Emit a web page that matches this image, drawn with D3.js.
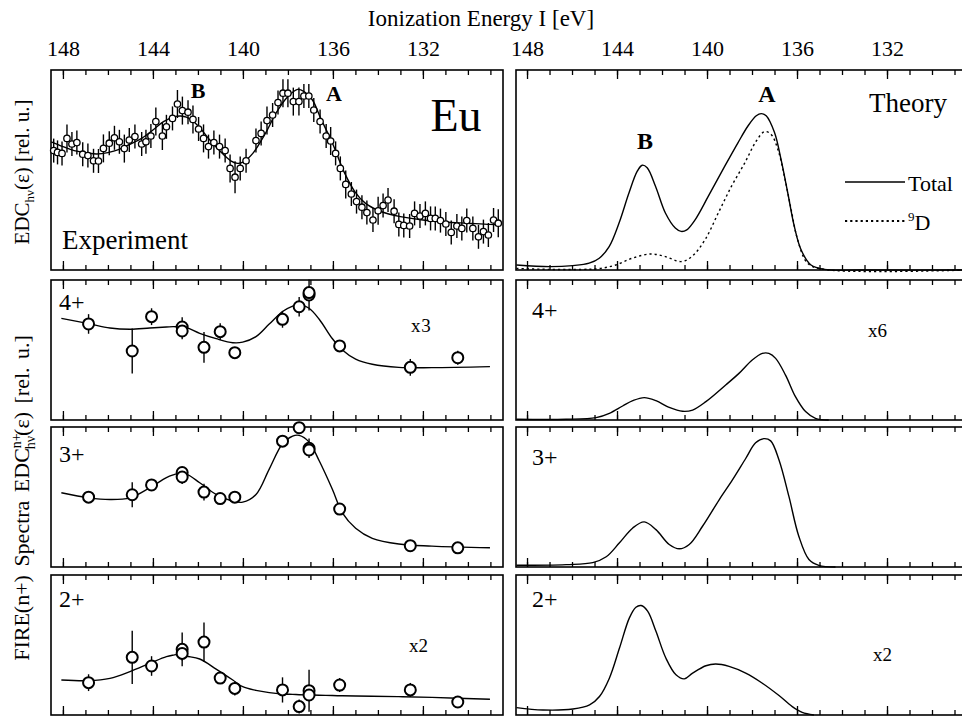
<!DOCTYPE html>
<html>
<head>
<meta charset="utf-8">
<script src="https://cdn.jsdelivr.net/npm/d3@7"></script>
<style>
  body { margin: 0; background: #fff; }
  svg, svg text { font-family: "Liberation Serif", "Times New Roman", serif; }
  .frame { fill: none; stroke: #000; stroke-width: 1.6; }
  .curve { fill: none; stroke: #000; stroke-width: 1.4; }
  .tick line { stroke: #000; stroke-width: 1.3; }
  .domain { display: none; }
</style>
</head>
<body>
<div class="contain"></div>
<script>
const svg_width = 962;
const svg_height = 717;

// ---- experiment, total EDC (top left) ----
const expEnergy = [148.41, 148.24, 148.04, 147.82, 147.60, 147.38, 147.12, 146.89, 146.64, 146.42,
  146.20, 145.94, 145.71, 145.49, 145.27, 145.05, 144.80, 144.50, 144.31, 144.09,
  143.87, 143.58, 143.40, 143.13, 142.91, 142.69, 142.44, 142.22, 141.97, 141.75,
  141.53, 141.29, 141.04, 140.79, 140.57, 140.35, 140.12, 139.86, 139.42, 139.19,
  138.93, 138.68, 138.44, 138.22, 138.00, 137.76, 137.51, 137.29, 137.07, 136.85,
  136.57, 136.30, 136.10, 135.88, 135.67, 135.43, 135.18, 134.95, 134.71, 134.49,
  134.22, 133.99, 133.77, 133.55, 133.28, 133.07, 132.85, 132.59, 132.37, 132.13,
  131.89, 131.66, 131.45, 131.22, 130.98, 130.74, 130.49, 130.27, 130.05, 129.78,
  129.53, 129.31, 129.09, 128.86, 128.65];
const expValue = [59.7, 58.8, 58.3, 65.8, 63.0, 63.7, 57.9, 57.2, 54.6, 54.5,
  60.8, 63.4, 66.1, 64.1, 60.7, 65.0, 66.7, 63.0, 64.1, 67.0,
  74.2, 67.0, 71.6, 75.8, 83.0, 79.7, 78.9, 75.3, 70.5, 65.8,
  61.7, 63.7, 61.7, 59.7, 50.8, 46.4, 50.8, 54.6, 64.7, 68.3,
  74.7, 77.5, 83.7, 88.4, 88.4, 84.2, 84.2, 87.0, 87.0, 80.0,
  74.2, 67.0, 64.5, 58.3, 50.8, 42.8, 38.0, 34.2, 31.4, 28.7,
  25.0, 29.6, 32.2, 35.0, 29.4, 22.8, 22.3, 22.0, 28.3, 27.0,
  28.3, 25.8, 25.8, 24.7, 23.0, 18.8, 22.0, 20.8, 24.7, 20.8,
  16.6, 19.2, 17.5, 25.0, 23.4];
const expError = [6, 6, 6, 7, 6, 6, 6, 6, 6, 6,
  7, 6, 6, 6, 7, 6, 6, 6, 6, 6,
  7, 7, 6, 6, 7, 7, 6, 7, 6, 7,
  6, 6, 6, 6, 7, 8, 6, 6, 6, 6,
  7, 6, 6, 7, 7, 7, 7, 6, 6, 6,
  6, 6, 7, 6, 6, 7, 6, 6, 6, 6,
  6, 7, 6, 6, 6, 6, 6, 6, 6, 6,
  6, 6, 6, 6, 6, 6, 6, 6, 6, 6,
  6, 6, 6, 6, 7];
const expFitEnergy = [148.52, 148.0, 147.5, 147.0, 146.5, 146.0, 145.5, 145.0, 144.5, 144.0,
  143.53, 143.03, 142.76, 142.51, 142.03, 141.53, 141.04, 140.54, 140.23, 140.0,
  139.56, 139.0, 138.53, 138.01, 137.57, 137.28, 136.91, 136.54, 136.02, 135.51,
  135.02, 134.55, 134.03, 133.52, 133.0, 132.0, 131.01, 130.01, 129.02, 128.53];
const expFitValue = [64.1, 61.7, 59.7, 58.7, 58.0, 58.7, 60.3, 63.0, 65.8, 70.0,
  74.2, 76.7, 77.0, 76.4, 72.5, 65.8, 59.7, 54.6, 53.3, 53.9,
  58.3, 68.3, 78.4, 86.6, 90.3, 89.2, 85.0, 75.8, 63.4, 49.2,
  39.1, 33.3, 30.0, 28.0, 26.7, 25.0, 24.0, 23.4, 22.8, 22.7];

// ---- theory, total and 9D (top right) ----
const totalEnergy = [148.47, 147.0, 145.97, 145.24, 144.79, 144.35, 143.91, 143.47, 143.10, 142.88,
  142.66, 142.29, 141.85, 141.41, 141.15, 140.90, 140.53, 139.94, 139.21, 138.62,
  138.18, 137.81, 137.59, 137.37, 137.0, 136.71, 136.41, 136.12, 135.82, 135.38,
  134.79, 133.03, 128.4];
const totalValue = [2.5, 1.7, 2.2, 3.4, 5.9, 11.7, 23.5, 38.5, 49.4, 52.4,
  51.1, 41.9, 28.5, 21.0, 19.3, 20.1, 25.1, 36.9, 51.9, 63.7,
  72.0, 77.1, 78.2, 77.1, 68.7, 55.3, 38.5, 21.8, 10.1, 2.5,
  0.3, 0, 0];
const d9Energy = [148.47, 147.0, 145.53, 144.79, 144.06, 143.32, 142.51, 141.85, 141.15, 140.68,
  140.09, 139.50, 138.91, 138.32, 137.81, 137.44, 137.15, 136.85, 136.56, 136.26,
  135.97, 135.53, 134.79, 128.4];
const d9Value = [0.8, 0.3, 0.3, 0.7, 2.5, 5.9, 8.0, 6.7, 4.2, 6.7,
  15.1, 28.5, 41.9, 53.6, 64.5, 69.2, 67.8, 60.3, 46.9, 30.2,
  15.1, 3.4, 0.3, 0];

// ---- FIRE ion spectra, experiment (left lower panels) ----
const ionEnergy = [146.86, 144.92, 144.06, 142.70, 142.70, 141.73, 141.01, 140.36, 138.24, 137.50,
  137.06, 137.06, 135.70, 132.56, 130.45];
const ion4Value = [68.6, 49.3, 73.8, 66.4, 63.6, 51.9, 63.1, 48.1, 71.9, 80.9, 89.3, 91.0, 52.9, 37.6, 44.5];
const ion4Error = [7, 16, 6, 7, 6, 11, 6, 2, 6, 7, 11, 4, 4, 6, 5];
const ion3Value = [49.9, 51.6, 58.6, 67.5, 64.3, 53.5, 48.9, 49.9, 89.9, 99.5, 84.8, 83.6, 41.4, 15.2, 13.7];
const ion3Error = [2, 9, 2, 3, 5, 6, 2, 2, 3, 2, 7, 2, 2, 2, 2];
const ion2Value = [23.1, 41.2, 35.0, 46.9, 44.0, 52.1, 26.4, 19.0, 17.9, 6.0, 17.4, 14.3, 21.4, 17.9, 9.3];
const ion2Error = [6, 19, 7, 12, 5, 14, 3, 5, 9, 5, 15, 3, 5, 5, 2];

const fitEnergy = [148.07, 146.86, 145.91, 145.02, 144.14, 143.40, 143.10, 142.88, 142.51, 141.92,
  141.19, 140.45, 140.01, 139.42, 138.83, 138.24, 137.79, 137.50, 137.06, 136.61,
  136.02, 135.58, 134.99, 134.25, 133.07, 131.60, 129.02];
const fit4Value = [72.6, 68.8, 65.7, 64.8, 65.7, 66.4, 66.7, 66.5, 66.0, 61.9,
  58.1, 55.2, 55.6, 59.5, 68.5, 77.5, 81.4, 82.6, 79.8, 72.0,
  58.0, 50.0, 43.5, 39.8, 37.6, 37.4, 38.1];
const fit3Value = [53.0, 49.4, 48.2, 49.4, 56.6, 63.9, 65.8, 66.7, 66.3, 60.2,
  51.8, 47.0, 46.3, 51.8, 69.9, 88.0, 93.5, 94.0, 89.2, 75.9,
  55.4, 38.6, 27.7, 20.5, 16.4, 14.9, 13.7];
const fit2Value = [25.0, 24.5, 26.2, 31.0, 36.9, 41.7, 42.8, 43.3, 42.0, 40.0,
  32.8, 25.0, 20.2, 17.6, 16.0, 15.0, 14.7, 14.5, 14.3, 14.1,
  13.9, 13.7, 13.6, 13.4, 13.1, 12.6, 11.2];

// ---- FIRE ion spectra, theory (right lower panels) ----
const th4Energy = [148.47, 146.26, 144.93, 144.34, 143.75, 143.30, 142.79, 142.27, 141.68, 141.09,
  140.64, 140.05, 139.17, 138.58, 137.99, 137.54, 137.25, 136.95, 136.51, 136.07,
  135.62, 135.18, 134.59];
const th4Value = [0.5, 0.5, 1.7, 4.8, 10.0, 13.8, 16.0, 13.8, 9.0, 6.2,
  7.1, 13.1, 25.0, 33.3, 42.9, 47.6, 47.6, 44.0, 32.1, 16.7,
  6.0, 1.2, 0];
const th3Energy = [148.47, 146.26, 145.08, 144.48, 143.89, 143.30, 142.79, 142.27, 141.68, 141.23,
  140.79, 140.20, 139.46, 138.87, 138.28, 137.84, 137.47, 137.17, 136.80, 136.36,
  135.92, 135.47, 135.03, 134.29];
const th3Value = [1.2, 1.7, 3.1, 7.3, 17.3, 27.9, 32.2, 26.7, 16.1, 13.0,
  16.1, 29.1, 48.0, 62.2, 77.5, 88.7, 91.7, 90.1, 76.4, 50.4,
  22.0, 5.4, 1.2, 0];
const th2Energy = [148.47, 147.29, 145.96, 145.22, 144.78, 144.34, 143.89, 143.45, 143.16, 142.93,
  142.64, 142.27, 141.83, 141.38, 141.01, 140.64, 140.05, 139.61, 139.02, 138.28,
  137.54, 136.80, 136.21, 135.77, 135.25];
const th2Value = [5.3, 3.6, 4.3, 7.2, 13.2, 26.3, 47.8, 69.4, 77.0, 78.2,
  74.2, 59.8, 40.7, 28.7, 25.8, 29.9, 35.2, 36.4, 34.7, 29.9,
  22.7, 13.9, 6.0, 1.9, 0];

const majorTicks = [148, 144, 140, 136, 132];
const minorTicks = d3.range(129, 149);

const serif = "Liberation Serif, Times New Roman, serif";

let svg = d3.select(".contain").append("svg")
            .attr("width", svg_width).attr("height", svg_height)
            .attr("font-family", serif);

// column x scales (energy runs right to left)
let xLeft = d3.scaleLinear().domain([148.53, 128.44]).range([51, 503]);
let xRight = d3.scaleLinear().domain([148.49, 128.4]).range([516, 968]);

// row extents [top, bottom]
const rows = [[70, 270], [280, 420], [427, 567], [575, 715]];

function panel(xScale, row, withLabels) {
  let top = rows[row][0], bottom = rows[row][1];
  let yScale = d3.scaleLinear().domain([0, 100]).range([bottom, top]);
  let g = svg.append("g");

  g.append("g").attr("transform", `translate(0, ${top})`)
    .call(d3.axisTop(xScale).tickValues(minorTicks).tickSize(-5).tickFormat(""));
  g.append("g").attr("transform", `translate(0, ${bottom})`)
    .call(d3.axisBottom(xScale).tickValues(minorTicks).tickSize(-5).tickFormat(""));
  let topAxis = g.append("g").attr("transform", `translate(0, ${top})`)
    .call(d3.axisTop(xScale).tickValues(majorTicks).tickSize(-9).tickPadding(14)
      .tickFormat(withLabels ? d3.format("d") : ""));
  topAxis.attr("font-family", serif);
  topAxis.selectAll("text").attr("font-size", 22).attr("fill", "#000");
  g.append("g").attr("transform", `translate(0, ${bottom})`)
    .call(d3.axisBottom(xScale).tickValues(majorTicks).tickSize(-9).tickFormat(""));

  g.append("rect").attr("class", "frame")
    .attr("x", xScale.range()[0]).attr("y", top)
    .attr("width", xScale.range()[1] - xScale.range()[0]).attr("height", bottom - top);
  return {g: g, x: xScale, y: yScale};
}

function drawCurve(p, energies, values, dash) {
  let line = d3.line()
    .x((d) => p.x(d[0]))
    .y((d) => p.y(d[1]))
    .curve(d3.curveCatmullRom.alpha(0.5));
  p.g.append("path")
    .attr("class", "curve")
    .attr("d", line(d3.zip(energies, values)))
    .attr("stroke-dasharray", dash ? "2.2,3" : null)
    .attr("stroke-width", dash ? 2 : 1.4);
}

function drawPoints(p, energies, values, errors, r, sw) {
  let data = d3.zip(energies, values, errors);
  p.g.append("g").selectAll("line")
    .data(data).enter().append("line")
    .attr("x1", (d) => p.x(d[0])).attr("x2", (d) => p.x(d[0]))
    .attr("y1", (d) => p.y(d[1] - d[2])).attr("y2", (d) => p.y(d[1] + d[2]))
    .attr("stroke", "#000").attr("stroke-width", 1.4);
  p.g.append("g").selectAll("circle")
    .data(data).enter().append("circle")
    .attr("cx", (d) => p.x(d[0])).attr("cy", (d) => p.y(d[1]))
    .attr("r", r).attr("fill", "#fff").attr("stroke", "#000").attr("stroke-width", sw);
}

function label(x, y, txt, size, weight) {
  return svg.append("text").attr("x", x).attr("y", y)
    .attr("font-family", serif)
    .attr("font-size", size).attr("font-weight", weight || "normal").text(txt);
}

// panels
let pExp = panel(xLeft, 0, true);
drawCurve(pExp, expFitEnergy, expFitValue);
drawPoints(pExp, expEnergy, expValue, expError, 3.2, 1.3);

let pTh = panel(xRight, 0, true);
drawCurve(pTh, totalEnergy, totalValue);
drawCurve(pTh, d9Energy, d9Value, true);

let p4 = panel(xLeft, 1, false);
drawCurve(p4, fitEnergy, fit4Value);
drawPoints(p4, ionEnergy, ion4Value, ion4Error, 5.5, 2);

let p3 = panel(xLeft, 2, false);
drawCurve(p3, fitEnergy, fit3Value);
drawPoints(p3, ionEnergy, ion3Value, ion3Error, 5.5, 2);

let p2 = panel(xLeft, 3, false);
drawCurve(p2, fitEnergy, fit2Value);
drawPoints(p2, ionEnergy, ion2Value, ion2Error, 5.5, 2);

let pt4 = panel(xRight, 1, false);
drawCurve(pt4, th4Energy, th4Value);
let pt3 = panel(xRight, 2, false);
drawCurve(pt3, th3Energy, th3Value);
let pt2 = panel(xRight, 3, false);
drawCurve(pt2, th2Energy, th2Value);

// titles and annotations
label(481, 26, "Ionization Energy  I [eV]", 23).attr("text-anchor", "middle");

label(198, 98, "B", 22, "bold").attr("text-anchor", "middle");
label(334, 101, "A", 22, "bold").attr("text-anchor", "middle");
label(456, 131, "Eu", 46).attr("text-anchor", "middle");
label(62, 249, "Experiment", 27);

label(767, 102, "A", 24, "bold").attr("text-anchor", "middle");
label(645, 149, "B", 24, "bold").attr("text-anchor", "middle");
label(908, 112, "Theory", 27).attr("text-anchor", "middle");

svg.append("line").attr("x1", 845).attr("x2", 905).attr("y1", 182).attr("y2", 182)
  .attr("stroke", "#000").attr("stroke-width", 1.4);
label(908, 191, "Total", 22);
svg.append("line").attr("x1", 845).attr("x2", 905).attr("y1", 221).attr("y2", 221)
  .attr("stroke", "#000").attr("stroke-width", 2).attr("stroke-dasharray", "2.2,3");
let d9 = label(908, 230, "", 22);
d9.append("tspan").attr("font-size", 13).attr("dy", -9).text("9");
d9.append("tspan").attr("dy", 9).text("D");

label(59, 310, "4+", 24);
label(411, 332, "x 3", 19).attr("letter-spacing", -2);
label(59, 462, "3+", 24);
label(59, 607, "2+", 24);
label(409, 652, "x2", 19);

label(532, 318, "4+", 24);
label(868, 337, "x6", 19);
label(532, 465, "3+", 24);
label(532, 607, "2+", 24);
label(873, 661, "x2", 19);

// y axis titles
let yt1 = svg.append("text").attr("font-size", 21).attr("text-anchor", "middle")
  .attr("font-family", serif)
  .attr("transform", "translate(29, 172) rotate(-90)");
yt1.append("tspan").text("EDC");
yt1.append("tspan").attr("font-size", 13).attr("dy", 5).text("hν");
yt1.append("tspan").attr("dy", -5).text("(ε) [rel. u.]");

let yt2 = svg.append("text").attr("font-size", 22).attr("text-anchor", "middle")
  .attr("font-family", serif).attr("word-spacing", 3)
  .attr("transform", "translate(29, 498) rotate(-90)");
yt2.append("tspan").text("FIRE(n+) Spectra  EDC");
yt2.append("tspan").attr("font-size", 14).attr("dy", -8).text("n+");
yt2.append("tspan").attr("font-size", 14).attr("dx", -16).attr("dy", 14).text("hν");
yt2.append("tspan").attr("dy", -6).text("(ε) [rel. u.]");
</script>
</body>
</html>
